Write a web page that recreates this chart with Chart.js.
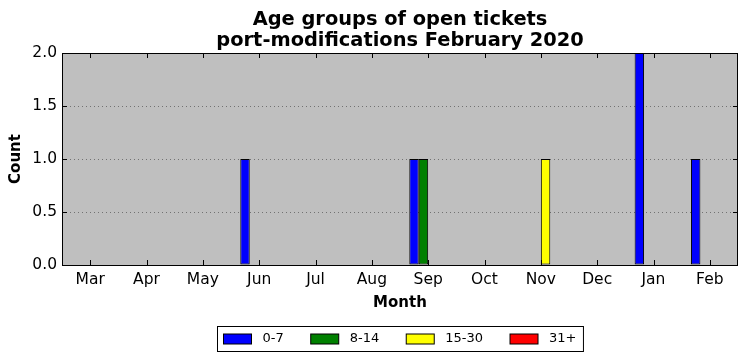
<!DOCTYPE html>
<html>
<head>
<meta charset="utf-8">
<script src="https://cdn.jsdelivr.net/npm/chart.js@4.4.0/dist/chart.umd.min.js"></script>
<style>
html, body { margin: 0; padding: 0; background: #fff; }
</style>
</head>
<body>
<canvas id="myChart" width="747" height="361"></canvas>
<script>
const months = ['Mar', 'Apr', 'May', 'Jun', 'Jul', 'Aug', 'Sep', 'Oct', 'Nov', 'Dec', 'Jan', 'Feb'];
const ageGroups = ['0-7', '8-14', '15-30', '31+'];
const groupColors = ['#0000ff', '#008000', '#ffff00', '#ff0000'];

const counts0to7   = [0, 0, 0, 1, 0, 0, 1, 0, 0, 0, 2, 1];
const counts8to14  = [0, 0, 0, 0, 0, 0, 1, 0, 0, 0, 0, 0];
const counts15to30 = [0, 0, 0, 0, 0, 0, 0, 0, 1, 0, 0, 0];
const counts31plus = [0, 0, 0, 0, 0, 0, 0, 0, 0, 0, 0, 0];

const titleLines = ['Age groups of open tickets', 'port-modifications February 2020'];
const yMin = 0, yMax = 2, yStep = 0.5;

const FONT = 'DejaVu Sans';

// plot background, inward ticks on all four sides, frame, title and boxed legend
const decorations = {
    id: 'decorations',
    beforeDraw(chart) {
        const {ctx, chartArea: a} = chart;
        ctx.save();
        ctx.fillStyle = '#bfbfbf';
        ctx.fillRect(a.left, a.top, a.right - a.left, a.bottom - a.top);
        ctx.restore();
    },
    afterDatasetsDraw(chart) {
        const {ctx, chartArea: a, scales: {x, y}} = chart;
        ctx.save();
        ctx.strokeStyle = '#000';
        ctx.lineWidth = 1;
        ctx.beginPath();
        x.ticks.forEach((t, i) => {
            const px = Math.round(x.getPixelForTick(i)) + 0.5;
            ctx.moveTo(px, a.bottom); ctx.lineTo(px, a.bottom - 5);
            ctx.moveTo(px, a.top); ctx.lineTo(px, a.top + 5);
        });
        y.ticks.forEach((t, i) => {
            const py = Math.round(y.getPixelForTick(i)) + 0.5;
            ctx.moveTo(a.left, py); ctx.lineTo(a.left + 5, py);
            ctx.moveTo(a.right, py); ctx.lineTo(a.right - 5, py);
        });
        ctx.stroke();
        ctx.strokeRect(Math.round(a.left) + 0.5, Math.round(a.top) + 0.5,
            Math.round(a.right - a.left) - 1, Math.round(a.bottom - a.top));

        // title
        const cx = (a.left + a.right) / 2;
        ctx.fillStyle = '#000';
        ctx.font = 'bold 19.4px "' + FONT + '"';
        ctx.textAlign = 'center';
        ctx.textBaseline = 'middle';
        titleLines.forEach((line, i) => ctx.fillText(line, cx, 19.5 + i * 21.5));

        // legend
        ctx.font = '13px "' + FONT + '"';
        ctx.textAlign = 'left';
        const items = chart.data.datasets.map(ds => ({label: ds.label, color: ds.backgroundColor, w: ctx.measureText(ds.label).width}));
        const padL = 6, padR = 7, patchW = 28, patchH = 10, textGap = 11, itemGap = 27;
        let total = padL + padR + itemGap * (items.length - 1);
        items.forEach(it => total += patchW + textGap + it.w);
        const boxL = Math.round(cx - total / 2) + 0.5, boxT = 326.5, boxH = 25;
        ctx.fillStyle = '#fff';
        ctx.fillRect(boxL, boxT, total, boxH);
        ctx.strokeRect(boxL, boxT, total, boxH);
        let lx = boxL + padL;
        const ly = boxT + boxH / 2;
        items.forEach(it => {
            ctx.fillStyle = it.color;
            ctx.fillRect(lx, ly - patchH / 2, patchW, patchH);
            ctx.strokeRect(lx, ly - patchH / 2, patchW, patchH);
            ctx.fillStyle = '#000';
            ctx.fillText(it.label, lx + patchW + textGap, ly);
            lx += patchW + textGap + it.w + itemGap;
        });
        ctx.restore();
    }
};

const seriesValues = [counts0to7, counts8to14, counts15to30, counts31plus];

const ctx = document.getElementById('myChart').getContext('2d');
const myChart = new Chart(ctx, {
    type: 'bar',
    data: {
        labels: months,
        datasets: ageGroups.map((g, i) => ({
            label: g,
            data: seriesValues[i],
            backgroundColor: groupColors[i],
            borderColor: '#000',
            borderWidth: 1,
            borderSkipped: false,
            categoryPercentage: 0.67,
            barPercentage: 1.0
        }))
    },
    options: {
        responsive: false,
        animation: false,
        devicePixelRatio: 1,
        layout: {padding: {top: 53, right: 9, bottom: 41, left: 0}},
        plugins: {
            legend: {display: false},
            title: {display: false},
            tooltip: {enabled: false}
        },
        scales: {
            x: {
                grid: {display: false, drawTicks: false},
                border: {display: false},
                ticks: {color: '#000', font: {family: FONT, size: 15.5}, padding: 6, maxRotation: 0},
                title: {display: true, text: 'Month', color: '#000', font: {family: FONT, size: 15, weight: 'bold'}, padding: {top: 8, bottom: 8}},
                afterFit(scale) { scale.height = 55; }
            },
            y: {
                min: yMin,
                max: yMax,
                grid: {color: 'rgba(0,0,0,0.4)', lineWidth: 1, drawTicks: false},
                border: {display: false, dash: [1, 3]},
                ticks: {
                    stepSize: yStep,
                    color: '#000',
                    font: {family: FONT, size: 15.5},
                    padding: 5,
                    callback: v => v.toFixed(1)
                },
                title: {display: true, text: 'Count', color: '#000', font: {family: FONT, size: 15, weight: 'bold'}, padding: {top: 7, bottom: 7}},
                afterFit(scale) { scale.width = 62; }
            }
        }
    },
    plugins: [decorations]
});
</script>
</body>
</html>
